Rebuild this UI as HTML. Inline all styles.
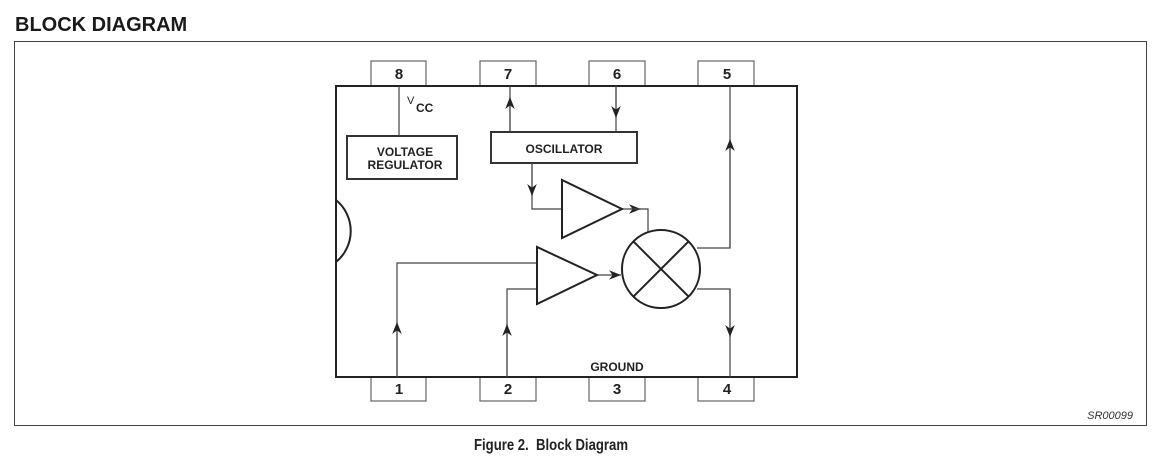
<!DOCTYPE html>
<html><head><style>
body{margin:0;background:#fff;width:1160px;height:462px;overflow:hidden}
svg text{font-family:"Liberation Sans",sans-serif}
</style></head><body>
<svg width="1160" height="462" viewBox="0 0 1160 462" xmlns="http://www.w3.org/2000/svg">
<defs>
<marker id="a" viewBox="0 0 10 10" refX="10" refY="5" markerWidth="12" markerHeight="12" markerUnits="userSpaceOnUse" orient="auto"><path d="M0,1 L10,5 L0,9 L3,5z" fill="#222"/></marker>
</defs>
<text x="15" y="31" font-size="20" font-weight="bold" fill="#1a1a1a">BLOCK DIAGRAM</text>
<rect x="14.5" y="41.5" width="1132" height="384" fill="none" stroke="#444" stroke-width="1"/>
<g fill="none" stroke="#666" stroke-width="1.2">
<rect x="371" y="61" width="55" height="25"/><rect x="480" y="61" width="56" height="25"/>
<rect x="589" y="61" width="56" height="25"/><rect x="698" y="61" width="56" height="25"/>
<rect x="371" y="377" width="55" height="24"/><rect x="480" y="377" width="56" height="24"/>
<rect x="589" y="377" width="56" height="24"/><rect x="698" y="377" width="56" height="24"/>
</g>
<g font-size="15" font-weight="bold" fill="#222" text-anchor="middle">
<text x="399" y="79">8</text><text x="508" y="79">7</text><text x="617" y="79">6</text><text x="727" y="79">5</text>
<text x="399" y="394">1</text><text x="508" y="394">2</text><text x="617" y="394">3</text><text x="727" y="394">4</text>
</g>
<rect x="336" y="86" width="461" height="291" fill="none" stroke="#222" stroke-width="2"/>
<path d="M336,200 A40 40 0 0 1 336,262" fill="none" stroke="#222" stroke-width="2"/>
<rect x="347" y="136" width="110" height="43" fill="none" stroke="#333" stroke-width="2"/>
<text x="405" y="156" font-size="12" font-weight="bold" text-anchor="middle" fill="#222">VOLTAGE</text>
<text x="405" y="169" font-size="12" font-weight="bold" text-anchor="middle" fill="#222">REGULATOR</text>
<rect x="491" y="132" width="146" height="31" fill="none" stroke="#333" stroke-width="2"/>
<text x="564" y="153" font-size="12" font-weight="bold" text-anchor="middle" fill="#222">OSCILLATOR</text>
<text x="407" y="104" font-size="11" fill="#222">V</text><text x="416" y="112" font-size="12" font-weight="bold" fill="#222">CC</text>
<text x="617" y="371" font-size="12" font-weight="bold" text-anchor="middle" fill="#222">GROUND</text>
<g fill="none" stroke="#444" stroke-width="1.2">
<line x1="399" y1="86" x2="399" y2="136"/>
<line x1="510" y1="132" x2="510" y2="86"/><line x1="510" y1="132" x2="510" y2="97" marker-end="url(#a)"/>
<line x1="616" y1="86" x2="616" y2="132"/><line x1="616" y1="86" x2="616" y2="118" marker-end="url(#a)"/>
<polyline points="532,163 532,209 562,209"/><line x1="532" y1="163" x2="532" y2="196" marker-end="url(#a)"/>
<line x1="622" y1="209" x2="641" y2="209" marker-end="url(#a)"/><polyline points="630,209 648,209 648,232"/>
<polyline points="697,248 730,248 730,86"/><line x1="730" y1="248" x2="730" y2="139" marker-end="url(#a)"/>
<line x1="597" y1="275" x2="621" y2="275" marker-end="url(#a)"/>
<polyline points="397,377 397,263 537,263"/><line x1="397" y1="377" x2="397" y2="322" marker-end="url(#a)"/>
<polyline points="507,377 507,289 537,289"/><line x1="507" y1="377" x2="507" y2="324" marker-end="url(#a)"/>
<polyline points="697,289 730,289 730,377"/><line x1="730" y1="289" x2="730" y2="337" marker-end="url(#a)"/>
</g>
<g fill="#fff" stroke="#222" stroke-width="2">
<polygon points="562,180 562,238 622,209"/>
<polygon points="537,247 537,304 597,275"/>
<circle cx="661" cy="269" r="39"/>
<line x1="633.4" y1="241.4" x2="688.6" y2="296.6"/><line x1="688.6" y1="241.4" x2="633.4" y2="296.6"/>
</g>
<text x="1133" y="419" font-size="11" font-style="italic" text-anchor="end" fill="#333">SR00099</text>
<text x="474" y="450" font-size="16" font-weight="bold" fill="#222" textLength="154" lengthAdjust="spacingAndGlyphs" xml:space="preserve">Figure 2.&#160; Block Diagram</text>
</svg>
</body></html>
